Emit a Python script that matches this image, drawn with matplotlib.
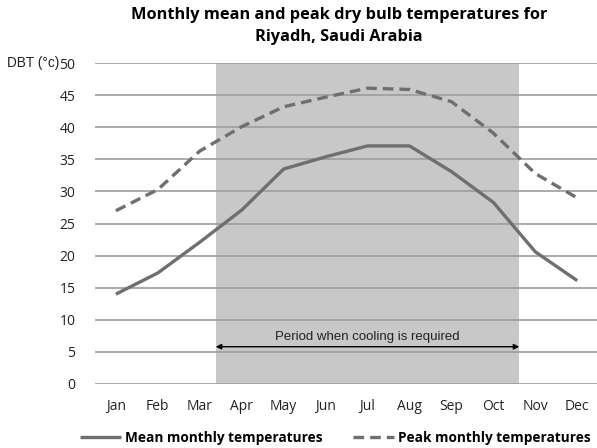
import matplotlib
matplotlib.use("Agg")
import matplotlib.pyplot as plt

months = ['Jan', 'Feb', 'Mar', 'Apr', 'May', 'Jun', 'Jul', 'Aug', 'Sep', 'Oct', 'Nov', 'Dec']
mean_temps = [14.0, 17.3, 22.1, 27.1, 33.5, 35.4, 37.1, 37.1, 33.1, 28.3, 20.6, 16.1]
peak_temps = [27.0, 30.3, 36.3, 40.1, 43.2, 44.7, 46.1, 45.9, 44.0, 39.1, 32.8, 29.0]

cooling_start, cooling_end = 2.38, 9.62
cooling_label = 'Period when cooling is required'

line_col = '#6f6f6f'

fig = plt.figure(figsize=(5.97, 4.48), dpi=100)
ax = fig.add_axes([0.159, 0.143, 0.843, 0.716])

x = list(range(len(months)))
ax.axvspan(cooling_start, cooling_end, color='#c8c8c8', lw=0, zorder=0)
for v in range(0, 55, 5):
    ax.axhline(v, color='#9c9c9c', lw=1.2, zorder=1)

ax.plot(x, mean_temps, color=line_col, lw=2.4, solid_capstyle='butt',
        label='Mean monthly temperatures', zorder=3)
ax.plot(x, peak_temps, color=line_col, lw=2.4, dashes=(3.2, 1.8),
        label='Peak monthly temperatures', zorder=3)

ax.annotate('', xy=(cooling_start, 5.8), xytext=(cooling_end, 5.8),
            arrowprops=dict(arrowstyle='<|-|>', color='black', lw=1.0,
                            mutation_scale=8, shrinkA=0, shrinkB=0), zorder=4)
ax.text((cooling_start + cooling_end) / 2, 7.3, cooling_label, ha='center', va='center',
        fontsize=9.5, family='Liberation Sans', color='#222222')

ax.set_xlim(-0.5, 11.5)
ax.set_ylim(0, 50)
ax.set_xticks(x)
ax.set_xticklabels(months)
ax.set_yticks(range(0, 55, 5))
for s in ax.spines.values():
    s.set_visible(False)
ax.tick_params(length=0, labelsize=10, colors='#222222')
ax.tick_params(axis='y', pad=14)
ax.tick_params(axis='x', pad=11)
for lab in ax.get_xticklabels() + ax.get_yticklabels():
    lab.set_family('Open Sans')

fig.text(0.012, 0.859, 'DBT (°c)', ha='left', va='center', fontsize=9.8,
         family='Liberation Sans', color='#222222')
fig.text(0.568, 0.985, 'Monthly mean and peak dry bulb temperatures for\nRiyadh, Saudi Arabia',
         ha='center', va='top', fontsize=11.8, fontweight='bold', family='Open Sans',
         linespacing=1.55)

leg = fig.legend(loc='center', bbox_to_anchor=(0.562, 0.022), ncol=2, frameon=False,
                 prop={'family': 'Open Sans', 'weight': 'bold', 'size': 9.8},
                 handlelength=3.0, handletextpad=0.3, columnspacing=2.2)

fig.savefig('out.png', dpi=100)
